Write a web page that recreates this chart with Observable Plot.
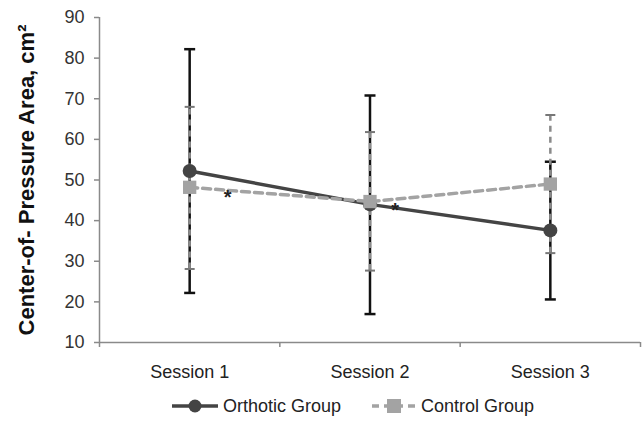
<!DOCTYPE html>
<html>
<head>
<meta charset="utf-8">
<script src="https://cdn.jsdelivr.net/npm/d3@7"></script>
<script src="https://cdn.jsdelivr.net/npm/@observablehq/plot@0.6"></script>
<style>
  body { margin: 0; background: #fff; font-family: "Liberation Sans", Arial, sans-serif; }
  #legend { display: flex; justify-content: center; align-items: center; gap: 30px; font-size: 18px; color: #222; height: 28px; margin-left: 62px; }
  #legend .item { display: flex; align-items: center; }
  #legend svg { margin-right: 4px; }
</style>
</head>
<body>
<div id="chart"></div>
<div id="legend"></div>
<script>
const sessions = ["Session 1", "Session 2", "Session 3"];
const orthoticMean = [52.2, 44.0, 37.6];
const orthoticUpper = [82.2, 70.8, 54.5];
const orthoticLower = [22.2, 17.0, 20.6];
const controlMean = [48.2, 44.7, 49.0];
const controlUpper = [68.0, 61.8, 66.0];
const controlLower = [28.1, 27.7, 32.0];
const yTicks = [10, 20, 30, 40, 50, 60, 70, 80, 90];
const starSession = [1.21, 2.14];
const starValue = [46.6, 43.5];

const orthotic = sessions.map((s, i) => ({i: i + 1, mean: orthoticMean[i], lo: orthoticLower[i], hi: orthoticUpper[i]}));
const control = sessions.map((s, i) => ({i: i + 1, mean: controlMean[i], lo: controlLower[i], hi: controlUpper[i]}));
const stars = starSession.map((x, k) => ({x, y: starValue[k]}));
const bounds = d3.range(sessions.length + 1).map(k => k + 0.5);

const cap = (hw) => ({
  draw(context, size) {
    context.moveTo(-hw, 0);
    context.lineTo(hw, 0);
  }
});

const axisColor = "#8a8a8a";

const chart = Plot.plot({
  width: 643,
  height: 392,
  marginTop: 17,
  marginBottom: 50,
  marginLeft: 99,
  marginRight: 3,
  style: {fontFamily: "Liberation Sans, Arial, sans-serif", background: "#fff"},
  x: {domain: [0.5, sessions.length + 0.5], axis: null},
  y: {domain: [10, 90], axis: null},
  marks: [
    Plot.axisY({ticks: yTicks, tickSize: 5, tickPadding: 10, stroke: axisColor, strokeWidth: 1.5, fill: "#333", fontSize: 18, label: null}),
    Plot.ruleX([0.5], {stroke: axisColor, strokeWidth: 1.5}),
    Plot.ruleY([10], {stroke: axisColor, strokeWidth: 1.5}),
    Plot.axisX({ticks: bounds, tickSize: 5, tickFormat: () => "", stroke: axisColor, strokeWidth: 1.5, label: null}),
    Plot.axisX({ticks: d3.range(1, sessions.length + 1), tickSize: 0, tickPadding: 23, tickFormat: d => sessions[d - 1], fill: "#222", fontSize: 18, label: null}),
    Plot.text(["Center-of- Pressure Area, cm²"], {frameAnchor: "left", textAnchor: "middle", dx: -73, rotate: -90, fontWeight: "bold", fontSize: 22, fill: "#111"}),
    // orthotic error bars
    Plot.ruleX(orthotic, {x: "i", y1: "lo", y2: "hi", stroke: "#111", strokeWidth: 2.5}),
    Plot.dot(orthotic.flatMap(d => [{i: d.i, v: d.lo}, {i: d.i, v: d.hi}]), {x: "i", y: "v", symbol: cap(5.5), stroke: "#111", strokeWidth: 2.5, fill: "none", r: 3}),
    // control error bars
    Plot.ruleX(control, {x: "i", y1: "lo", y2: "hi", stroke: "#8a8a8a", strokeWidth: 2.5, strokeDasharray: "6,5"}),
    Plot.dot(control.flatMap(d => [{i: d.i, v: d.lo}, {i: d.i, v: d.hi}]), {x: "i", y: "v", symbol: cap(5), stroke: "#777", strokeWidth: 2, fill: "none", r: 3}),
    // orthotic line
    Plot.line(orthotic, {x: "i", y: "mean", stroke: "#444", strokeWidth: 3.5}),
    Plot.dot(orthotic, {x: "i", y: "mean", r: 7, fill: "#444", stroke: "none"}),
    // control line
    Plot.line(control, {x: "i", y: "mean", stroke: "#a3a3a3", strokeWidth: 3.5, strokeDasharray: "8,5"}),
    Plot.dot(control, {x: "i", y: "mean", symbol: "square", r: 7.5, fill: "#a3a3a3", stroke: "none"}),
    // asterisks
    Plot.text(stars, {x: "x", y: "y", text: () => "*", fontSize: 20, fontWeight: "bold", fill: "#222", dy: 4})
  ]
});
document.getElementById("chart").appendChild(chart);

const legend = document.getElementById("legend");
legend.innerHTML = `
  <div class="item"><svg width="48" height="16"><line x1="1" y1="8" x2="47" y2="8" stroke="#444" stroke-width="3.5"/><circle cx="24" cy="8" r="6.5" fill="#444"/></svg><span>Orthotic Group</span></div>
  <div class="item"><svg width="46" height="16"><line x1="1" y1="8" x2="45" y2="8" stroke="#a3a3a3" stroke-width="3.5" stroke-dasharray="7,5"/><rect x="16" y="1" width="14" height="14" fill="#a3a3a3"/></svg><span>Control Group</span></div>
`;
</script>
</body>
</html>
